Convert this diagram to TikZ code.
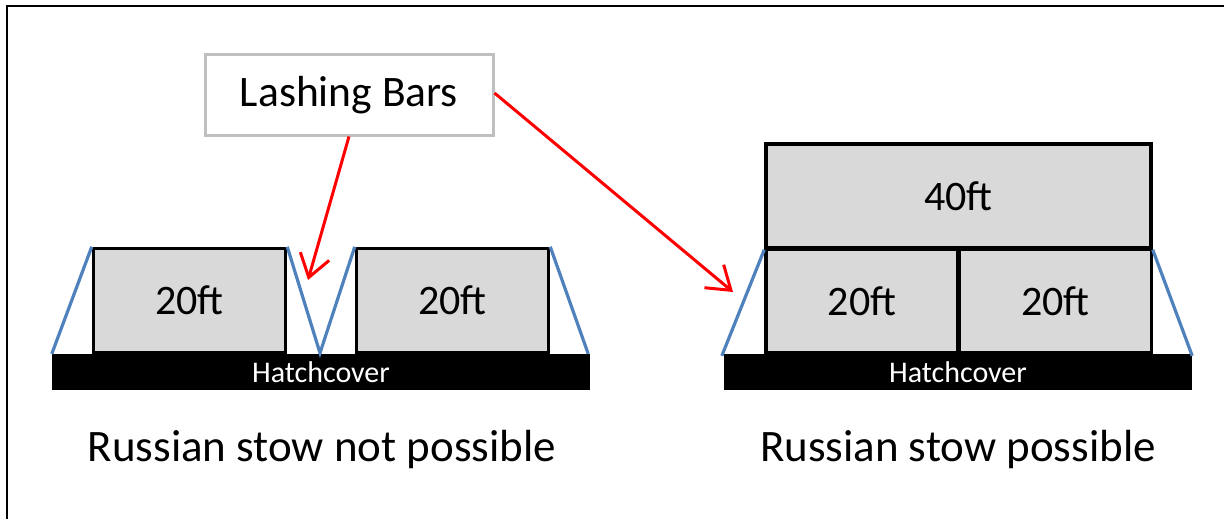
\documentclass[tikz,border=0pt]{standalone}
\usepackage{fontspec}
\setmainfont{Carlito}
\usetikzlibrary{arrows.meta}
\definecolor{cgray}{HTML}{D9D9D9}
\definecolor{barblue}{HTML}{4F81BD}
\definecolor{boxgray}{HTML}{BFBFBF}
\begin{document}
\begin{tikzpicture}[x=1pt,y=-1pt,
  cont/.style={fill=cgray,draw=black,line width=3.5pt,inner sep=0pt,font=\fontsize{42}{50}\selectfont},
  lashbar/.style={draw=barblue,line width=3.2pt},
  hatch/.style={fill=black,draw=none,inner sep=0pt,text=white,font=\fontsize{30}{36}\selectfont},
  redarrow/.style={draw=red,line width=3pt,-{Straight Barb[length=22pt,width=30pt,line width=3pt]}},
  label/.style={inner sep=0pt,font=\fontsize{45}{54}\selectfont},
  callout/.style={draw=boxgray,line width=3pt,fill=white,inner sep=0pt,font=\fontsize{43.5}{52}\selectfont}]
\useasboundingbox (0,0) rectangle (1224,519);
% frame (cropped)
\draw[line width=2.2pt] (7,519) -- (7,6) -- (1224,6);
% left group
\node[hatch,minimum width=538pt,minimum height=36pt] (h1) at (321,372) {Hatchcover};
\node[cont,minimum width=192pt,minimum height=104pt] (c1) at (189.5,300.5) {20ft};
\node[cont,minimum width=192pt,minimum height=104pt] (c2) at (452.5,300.5) {20ft};
\coordinate (v1) at (320,353);
\draw[lashbar] (h1.north west) -- (c1.north west);
\draw[lashbar] (c1.north east) -- (v1) -- (c2.north west);
\draw[lashbar] (c2.north east) -- ([xshift=-2pt]h1.north east);
% right group
\node[hatch,minimum width=468pt,minimum height=36pt] (h2) at (958,372) {Hatchcover};
\node[cont,minimum width=192pt,minimum height=104pt] (c3) at (862,301) {20ft};
\node[cont,minimum width=192pt,minimum height=104pt] (c4) at (1055.5,301) {20ft};
\node[cont,minimum width=385pt,minimum height=104pt] (c5) at (958.5,196) {40ft};
\draw[lashbar] ([xshift=-2pt,yshift=-2pt]h2.north west) -- (c5.south west);
\draw[lashbar] (c5.south east) -- ([yshift=-2pt]h2.north east);
% callout
\node[callout,minimum width=288pt,minimum height=80pt] (lb) at (349,95) {Lashing Bars};
\coordinate (t1) at (308,280);
\coordinate (t2) at (733,292);
\draw[redarrow] (lb.south) -- (t1);
\draw[redarrow] ([yshift=2pt]lb.east) -- (t2);
% captions
\node[label] (cap1) at (322,449) {Russian stow not possible};
\node[label] (cap2) at (958,449) {Russian stow possible};
\end{tikzpicture}
\end{document}
